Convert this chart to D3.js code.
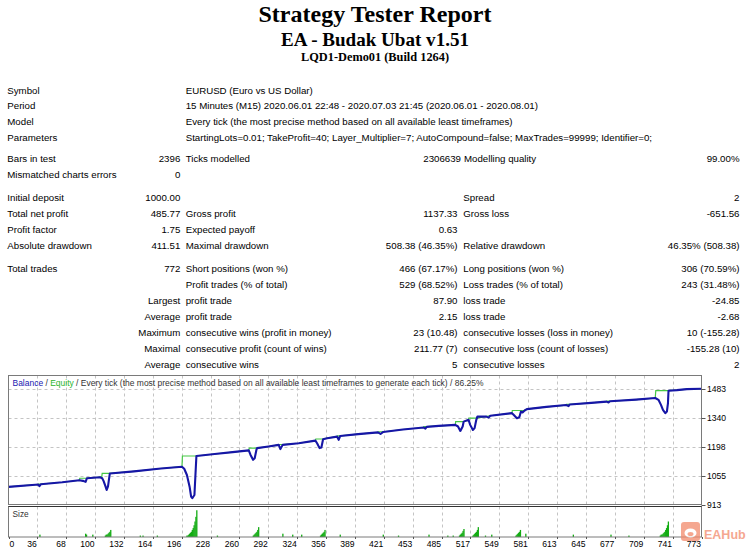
<!DOCTYPE html>
<html><head><meta charset="utf-8">
<script src="https://cdn.jsdelivr.net/npm/d3@7"></script>
<style>body{margin:0;background:#fff}svg{display:block}</style>
</head><body><svg id="c" width="751" height="549"></svg>
<script>
// ---------- DATA ----------
const titleLines = ["Strategy Tester Report", "EA - Budak Ubat v1.51", "LQD1-Demo01 (Build 1264)"];
const headerRows = [
  ["Symbol", "EURUSD (Euro vs US Dollar)"],
  ["Period", "15 Minutes (M15) 2020.06.01 22:48 - 2020.07.03 21:45 (2020.06.01 - 2020.08.01)"],
  ["Model", "Every tick (the most precise method based on all available least timeframes)"],
  ["Parameters", "StartingLots=0.01; TakeProfit=40; Layer_Multiplier=7; AutoCompound=false; MaxTrades=99999; Identifier=0;"]
];
const statRows = [
  ["Bars in test", "2396", "Ticks modelled", "2306639", "Modelling quality", "99.00%"],
  ["Mismatched charts errors", "0", "", "", "", ""],
  ["Initial deposit", "1000.00", "", "", "Spread", "2"],
  ["Total net profit", "485.77", "Gross profit", "1137.33", "Gross loss", "-651.56"],
  ["Profit factor", "1.75", "Expected payoff", "0.63", "", ""],
  ["Absolute drawdown", "411.51", "Maximal drawdown", "508.38 (46.35%)", "Relative drawdown", "46.35% (508.38)"],
  ["Total trades", "772", "Short positions (won %)", "466 (67.17%)", "Long positions (won %)", "306 (70.59%)"],
  ["", "", "Profit trades (% of total)", "529 (68.52%)", "Loss trades (% of total)", "243 (31.48%)"],
  ["", "Largest", "profit trade", "87.90", "loss trade", "-24.85"],
  ["", "Average", "profit trade", "2.15", "loss trade", "-2.68"],
  ["", "Maximum", "consecutive wins (profit in money)", "23 (10.48)", "consecutive losses (loss in money)", "10 (-155.28)"],
  ["", "Maximal", "consecutive profit (count of wins)", "211.77 (7)", "consecutive loss (count of losses)", "-155.28 (10)"],
  ["", "Average", "consecutive wins", "5", "consecutive losses", "2"]
];
const chartCaption = ["Balance", " / ", "Equity", " / Every tick (the most precise method based on all available least timeframes to generate each tick) / 86.25%"];
const totalTrades = 773;
const xTickLabels = ["0","36","68","100","132","164","196","228","260","292","324","356","389","421","453","485","517","549","581","613","645","677","709","741","773"];
const yTickValues = [913, 1055, 1198, 1340, 1483];
// [trade number, money]
const balanceValues = [
  [0,1000],[30,1011],[33,1012],[34.5,1004],[36,1013],[60,1023],[79,1033],[83,1030],[86,1025],[87.5,1043],
  [102,1048],[104.5,1043],[106,1030],[108,1005],[109.5,985],[111,1003],[112,1035],[113,1066],
  [140,1077],[170,1091],[193.5,1100],[196,1090],[199,1059],[202,1001],[203.7,952],[205,944],[207.4,960],[208.8,1084],[209.6,1153],
  [230,1163],[250,1172],[268,1181],[270,1158],[272.8,1134],[274.6,1142],[276.5,1183],[277.3,1192],
  [290,1200],[301.4,1208],[303.3,1187],[305.8,1208],[323.7,1216],[342.3,1229],[344.2,1216],[347,1192],[349,1195],[350.9,1236],[355.4,1241],
  [366.5,1249],[368.3,1233],[370,1252],[390,1261],[412,1270],[415,1262],[418,1272],[440,1284],[463,1294],[465,1288],[466.5,1297],
  [480,1302],[498.4,1307],[501.4,1299],[504,1277],[506.6,1299],[507.7,1323],[513.2,1332],[515,1307],[518,1282],[519.9,1291],[521.8,1332],[523,1348],
  [533,1348],[535.5,1343],[537.4,1352],[561.6,1365],[563.4,1357],[567.1,1340],[569.8,1345],[571.6,1373],[573.4,1368],[575.7,1378],[578.3,1385],
  [600,1396],[622,1405],[624.7,1400],[626,1408],[650,1416],[667,1422],[669.3,1418],[671,1424],[700,1432],
  [721.4,1440],[725,1431],[727.8,1406],[730,1381],[732.6,1365],[734.4,1373],[735.6,1415],[736.2,1476],[745.6,1479],[756.7,1484],[773,1486]
];
const equityValues = [
  [0,1000],[30,1011],[33,1012],[33.5,1014],[36,1014],[60,1023],[79,1033],[79.5,1043],[88,1043],
  [102,1048],[104,1048],[104.5,1067],[113,1067],[140,1077],[170,1091],[193.5,1100],[194,1153],[209.6,1153],
  [230,1163],[250,1172],[268,1181],[268.5,1192],[277.3,1192],[290,1200],[301.4,1208],[301.8,1210],[305.8,1210],
  [323.7,1216],[342.3,1229],[342.8,1237],[350.9,1237],[355.4,1241],[366.5,1249],[366.8,1253],[370,1253],
  [390,1261],[412,1270],[412.3,1273],[418,1273],[440,1284],[463,1294],[463.3,1298],[466.5,1298],[480,1302],
  [498.4,1307],[498.8,1323],[507.7,1323],[513.2,1332],[513.5,1340],[523,1340],[533,1349],[537.4,1352],
  [561.6,1365],[562,1378],[575.7,1378],[578.3,1385],[600,1396],[622,1405],[622.3,1408],[626,1408],
  [650,1416],[667,1422],[667.3,1424],[671,1424],[700,1432],[721.4,1440],[722,1476],[736.2,1476],[745.6,1479],[756.7,1484],[773,1486]
];
// [trade number, lots]
const sizeValues = [
  [35,0.02],[86,0.03],[87,0.02],[94,0.02],
  [108,0.01],[109,0.02],[110,0.02],[111,0.03],[112,0.04],[113,0.05],[114,0.07],
  [147,0.01],[150,0.01],[166,0.01],
  [199,0.01],[200,0.01],[201,0.02],[202,0.03],[203,0.04],[204,0.05],[205,0.07],[206,0.09],[207,0.12],[208,0.16],[209,0.21],[210,0.28],
  [233,0.01],
  [273,0.01],[274,0.02],[275,0.03],[276,0.04],[277,0.05],[278,0.07],[279,0.10],
  [306,0.03],[317,0.02],[327,0.02],
  [348,0.01],[349,0.02],[350,0.03],[351,0.04],[352,0.05],[353,0.07],
  [370,0.02],[418,0.02],[435,0.01],[469,0.02],[490,0.01],[496,0.01],
  [503,0.01],[504,0.02],[505,0.03],[506,0.04],[507,0.06],[508,0.08],
  [518,0.01],[519,0.02],[520,0.03],[521,0.04],[522,0.05],[523,0.07],[524,0.10],
  [532,0.01],[539,0.02],
  [566,0.01],[567,0.02],[568,0.03],[569,0.04],[570,0.05],[571,0.07],
  [577,0.03],[630,0.02],[672,0.02],[692,0.01],
  [727,0.01],[728,0.02],[729,0.02],[730,0.03],[731,0.04],[732,0.05],[733,0.07],[734,0.09],[735,0.12],[736,0.16]
];

// ---------- DRAW ----------
const svg = d3.select("#c");
svg.append("rect").attr("width",751).attr("height",549).attr("fill","#fff");
const SANS = "'Liberation Sans', Arial, sans-serif";
const SERIF = "'Liberation Serif', 'Times New Roman', serif";

// Titles
const titleSpec = [
  {size:23.5, y:22, len:233},
  {size:19.5, y:45.5, len:188},
  {size:12.5, y:61, len:148}
];
svg.selectAll("text.title").data(titleLines).join("text")
  .attr("class","title")
  .attr("x",375).attr("y",(d,i)=>titleSpec[i].y)
  .attr("text-anchor","middle")
  .attr("font-family",SERIF).attr("font-weight","bold")
  .attr("font-size",(d,i)=>titleSpec[i].size)
  .attr("textLength",(d,i)=>titleSpec[i].len).attr("lengthAdjust","spacingAndGlyphs")
  .attr("fill","#000").text(d=>d);

// Report table
const FS = 9.7;
const col = {c1:7.3, c2:180.3, c3:185.7, c4:457.5, c5:463.3, c6:739.5};
const headerY = [90, 105.7, 121.7, 137.7];
const statY = [158.3, 174.3, 197.7, 213.7, 229.7, 245.7, 268.3, 284.3, 300.3, 316.3, 332.3, 348.3, 364.3];
const tbl = svg.append("g").attr("font-family",SANS).attr("font-size",FS).attr("fill","#000");
headerRows.forEach((r,i)=>{
  tbl.append("text").attr("x",col.c1).attr("y",headerY[i]+3.5).text(r[0]);
  tbl.append("text").attr("x",col.c3).attr("y",headerY[i]+3.5).text(r[1]);
});
statRows.forEach((r,i)=>{
  const y = statY[i]+3.5;
  const c4 = i===0 ? 461 : col.c4, c5 = i===0 ? 464 : col.c5;
  const cells = [[r[0],col.c1,"start"],[r[1],col.c2,"end"],[r[2],col.c3,"start"],[r[3],c4,"end"],[r[4],c5,"start"],[r[5],col.c6,"end"]];
  cells.forEach(([t,x,a])=>{ if(t) tbl.append("text").attr("x",x).attr("y",y).attr("text-anchor",a).text(t); });
});

// Chart geometry
const L = 8.5, R = 701.5, mainTop = 375.5, mainBot = 504.5, sizeTop = 506.5, sizeBot = 537;
const x = d3.scaleLinear().domain([0, totalTrades]).range([L, R]);
const xIdx = d3.scaleLinear().domain([0, xTickLabels.length-1]).range([L, R]);
const y = d3.scaleLinear().domain([913, 1483]).range([mainBot, 389.3]);
const ys = d3.scaleLinear().domain([0, 0.32]).range([sizeBot-0.5, sizeTop]);

// Grid
const grid = svg.append("g").attr("stroke","#c4c4c4").attr("stroke-dasharray","3,3").attr("stroke-width",1);
d3.range(1, xTickLabels.length-1).forEach(i=>{
  const gx = Math.round(xIdx(i))+0.5;
  grid.append("line").attr("x1",gx).attr("x2",gx).attr("y1",mainTop).attr("y2",mainBot);
  grid.append("line").attr("x1",gx).attr("x2",gx).attr("y1",sizeTop).attr("y2",sizeBot);
});
yTickValues.slice(1).forEach(v=>{
  const gy = Math.round(y(v))+0.5;
  grid.append("line").attr("x1",L).attr("x2",R).attr("y1",gy).attr("y2",gy);
});

// Size bars
svg.append("g").selectAll("rect").data(sizeValues).join("rect")
  .attr("x",d=>x(d[0])-0.6).attr("width",1.3)
  .attr("y",d=>ys(d[1])).attr("height",d=>sizeBot-ys(d[1]))
  .attr("fill","#13ac13");

// Lines
const line = d3.line().x(d=>x(d[0])).y(d=>y(d[1]));
svg.append("path").datum(equityValues).attr("d",line).attr("fill","none")
  .attr("stroke","#46c846").attr("stroke-width",1.2);
svg.append("path").datum(balanceValues).attr("d",line).attr("fill","none")
  .attr("stroke","#1616a6").attr("stroke-width",2.1).attr("stroke-linejoin","round");

// Frames
svg.append("rect").attr("x",L).attr("y",mainTop).attr("width",R-L).attr("height",mainBot-mainTop)
  .attr("fill","none").attr("stroke","#7a7a7a");
svg.append("rect").attr("x",L).attr("y",sizeTop).attr("width",R-L).attr("height",sizeBot-sizeTop)
  .attr("fill","none").attr("stroke","#7a7a7a");
svg.append("line").attr("x1",L).attr("x2",R).attr("y1",sizeTop).attr("y2",sizeTop).attr("stroke","#333");

// Right axis
const ra = svg.append("g").attr("font-family",SANS).attr("font-size",8.6).attr("fill","#000");
yTickValues.forEach(v=>{
  ra.append("line").attr("x1",R).attr("x2",R+4).attr("y1",Math.round(y(v))+0.5).attr("y2",Math.round(y(v))+0.5).attr("stroke","#555");
  ra.append("text").attr("x",R+5.5).attr("y",y(v)).attr("dy","0.35em").text(v);
});

// Bottom axis
const ba = svg.append("g").attr("font-family",SANS).attr("font-size",8.6).attr("fill","#000");
xTickLabels.forEach((t,i)=>{
  const gx = xIdx(i);
  ba.append("line").attr("x1",Math.round(gx)+0.5).attr("x2",Math.round(gx)+0.5).attr("y1",sizeBot).attr("y2",sizeBot+2).attr("stroke","#555");
  ba.append("text").attr("x", i===0 ? gx+1 : gx-0.5).attr("y",546.5)
    .attr("text-anchor", i===0 ? "start" : "end").text(t);
});

// Captions
const cap = svg.append("text").attr("x",12.5).attr("y",386.3).attr("font-family",SANS).attr("font-size",8.3)
  .attr("textLength",471).attr("lengthAdjust","spacingAndGlyphs");
const capColors = ["#2020b0","#333","#2ab42a","#333"];
chartCaption.forEach((t,i)=>cap.append("tspan").attr("fill",capColors[i]).text(t));
svg.append("text").attr("x",12.5).attr("y",517).attr("font-family",SANS).attr("font-size",8.3).attr("fill","#333").text("Size");

// Watermark
const wm = svg.append("g").attr("opacity",0.75);
wm.append("rect").attr("x",681).attr("y",522).attr("width",19).attr("height",19).attr("rx",3).attr("fill","#f28a6c");
wm.append("ellipse").attr("cx",690.5).attr("cy",533).attr("rx",6).attr("ry",4.5).attr("fill","#fff");
wm.append("ellipse").attr("cx",690.5).attr("cy",534).attr("rx",3).attr("ry",2).attr("fill","#f28a6c");
wm.append("text").attr("x",704).attr("y",538.5).attr("font-family",SANS).attr("font-weight","bold").attr("font-size",12.5)
  .attr("fill","#f28a6c").text("EAHub");
</script></body></html>
